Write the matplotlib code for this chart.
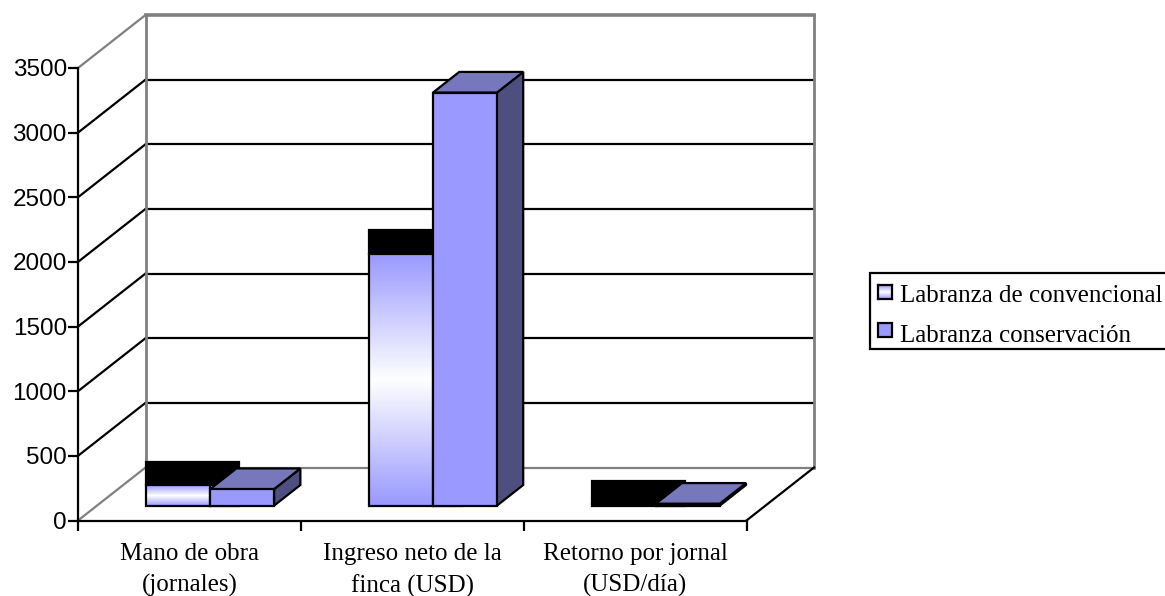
import numpy as np
import matplotlib
matplotlib.use('Agg')
import matplotlib.pyplot as plt
from matplotlib.colors import LinearSegmentedColormap
from matplotlib.patches import Polygon, Rectangle

# Datos del grafico
categorias = ['Mano de obra\n(jornales)', 'Ingreso neto de la\nfinca (USD)', 'Retorno por jornal\n(USD/día)']
convencional = [162, 1950, 15]
conservacion = [128, 3195, 15]
series = ['Labranza de convencional', 'Labranza conservación']
marcas_y = [0, 500, 1000, 1500, 2000, 2500, 3000, 3500]

VIOLETA = '#9999FF'
VIOLETA_TAPA = '#7777BB'
VIOLETA_LADO = '#4F4F7F'
GRIS = '#808080'
SERIF = 'Liberation Serif'
LW = 1.6

W, H = 1165, 596
fig = plt.figure(figsize=(W / 100, H / 100), dpi=100)
ax = fig.add_axes([78 / W, (H - 520.5) / H, 668.5 / W, 452.5 / H])
ax.patch.set_visible(False)

# Desplazamiento de la pared del fondo, en unidades de datos
DX = 67.5 / 668.5 * 3
DY = 53 / 452.5 * 3500
ANCHO = 0.287
CENTRO = 0.508
P0, P1 = 0.28, 0.67


def proy(x, y, p):
    # Pasa un punto con profundidad p (0 frente, 1 fondo) al plano del eje
    return x + DX * p, y + DY * p


def cara(puntos, color, z, borde='black'):
    ax.add_patch(Polygon([proy(*q) for q in puntos], closed=True, facecolor=color,
                         edgecolor=borde, linewidth=LW, joinstyle='miter',
                         clip_on=False, zorder=z))


def linea(a, b, color, z=1, lw=LW):
    xa, ya = proy(*a)
    xb, yb = proy(*b)
    ax.plot([xa, xb], [ya, yb], color=color, lw=lw, clip_on=False, zorder=z,
            solid_capstyle='projecting')


# Paredes: lineas de division en el fondo y en el lateral
for v in marcas_y:
    extremo = v in (marcas_y[0], marcas_y[-1])
    col = GRIS if extremo else 'black'
    grosor = 2.6 if v == marcas_y[-1] else LW
    linea((0, v, 1), (3, v, 1), col, lw=grosor)
    linea((0, v, 0), (0, v, 1), col)
linea((0, 0, 1), (0, 3500, 1), GRIS, z=2, lw=2.0)
linea((3, 0, 1), (3, 3500, 1), GRIS, z=2, lw=2.0)
linea((3, 0, 0), (3, 0, 1), 'black', z=2)

mapa = LinearSegmentedColormap.from_list('degradado', [VIOLETA, 'white', VIOLETA], N=128)
grad = np.linspace(0, 1, 256).reshape(-1, 1)

for i in range(len(categorias)):
    x0 = i + CENTRO - ANCHO
    x1 = i + CENTRO
    x2 = i + CENTRO + ANCHO
    v1 = convencional[i]
    v2 = conservacion[i]

    # Serie con degradado: su tapa y su lateral salen en negro
    xa, ya = proy(x0, v1, P0)
    xb, yb = proy(x1, v1, P1)
    xb += 0.012
    yb += 19
    ax.add_patch(Rectangle((xa, ya), xb - xa, yb - ya, facecolor='black', edgecolor='black',
                           linewidth=LW, clip_on=False, zorder=3))
    xc, yc = proy(x1, 0, P0)
    ax.plot([xc, xb], [yc, yc], color='black', lw=LW, clip_on=False, zorder=3)
    xf0, yf0 = proy(x0, 0, P0)
    xf1, yf1 = proy(x1, v1, P0)
    ax.imshow(grad, cmap=mapa, aspect='auto', extent=(xf0, xf1, yf0, yf1),
              clip_on=False, zorder=4, interpolation='nearest')
    ax.add_patch(Rectangle((xf0, yf0), xf1 - xf0, yf1 - yf0, facecolor='none', edgecolor='black',
                           linewidth=LW, clip_on=False, zorder=4))

    # Serie de conservacion: frente, tapa y lateral
    cara([(x2, 0, P0), (x2, 0, P1), (x2, v2, P1), (x2, v2, P0)], VIOLETA_LADO, 5)
    cara([(x1, v2, P0), (x2, v2, P0), (x2, v2, P1), (x1, v2, P1)], VIOLETA_TAPA, 5)
    cara([(x1, 0, P0), (x2, 0, P0), (x2, v2, P0), (x1, v2, P0)], VIOLETA, 6)

# Ejes del plano frontal
ax.set_xlim(0, 3)
ax.set_ylim(0, 3500)
for lado in ('top', 'right'):
    ax.spines[lado].set_visible(False)
for lado in ('left', 'bottom'):
    ax.spines[lado].set_linewidth(LW)
    ax.spines[lado].set_zorder(7)
ax.set_yticks(marcas_y)
ax.set_yticklabels([str(v) for v in marcas_y], family='Liberation Sans', fontsize=17.5)
ax.tick_params(axis='y', length=7.5, width=LW, pad=0.5)
ax.set_xticks(range(len(categorias) + 1))
ax.set_xticklabels([])
ax.tick_params(axis='x', which='major', length=7.5, width=LW)
ax.set_xticks(np.arange(len(categorias)) + 0.5, minor=True)
ax.set_xticklabels(categorias, minor=True, family=SERIF, fontsize=18, linespacing=1.5)
ax.tick_params(axis='x', which='minor', length=0, pad=16.5)


def px(x, y):
    return x / W, (H - y) / H


# Leyenda, cortada por el borde derecho
lx, ly = px(870, 349)
fig.add_artist(Rectangle((lx, ly), 320 / W, 76 / H, transform=fig.transFigure,
                         facecolor='white', edgecolor='black', linewidth=LW))
sw = fig.add_axes([878 / W, (H - 299) / H, 14 / W, 14 / H], zorder=5)
sw.imshow(grad, cmap=mapa, aspect='auto')
sw.set_xticks([])
sw.set_yticks([])
for s in sw.spines.values():
    s.set_linewidth(LW)
fig.add_artist(Rectangle(px(878, 337), 14 / W, 14 / H, transform=fig.transFigure,
                         facecolor=VIOLETA, edgecolor='black', linewidth=LW))
for nombre, y in zip(series, (296.5, 335.5)):
    xt, yt = px(900, y)
    fig.text(xt, yt, nombre, family=SERIF, fontsize=18, va='center', ha='left')

fig.savefig('out.png', dpi=100)
